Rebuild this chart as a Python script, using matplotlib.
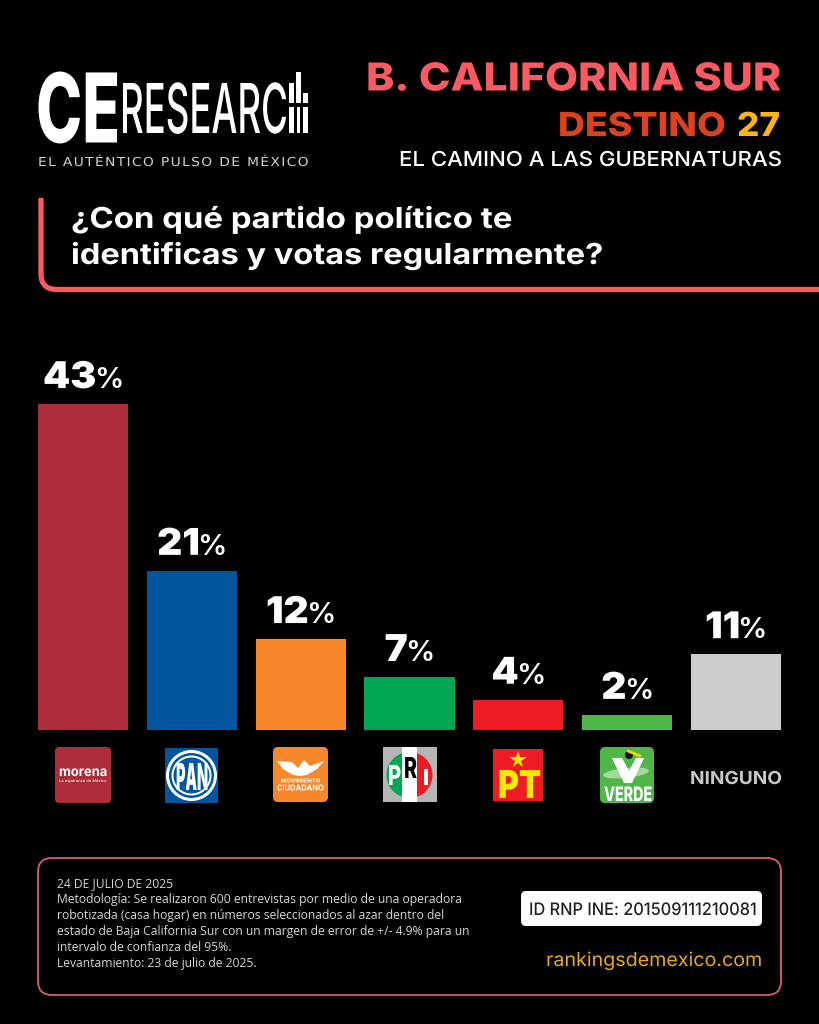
#! /usr/bin/env python

import matplotlib
matplotlib.use("Agg")
import matplotlib.pyplot as plt
from matplotlib.patches import FancyBboxPatch, PathPatch, Rectangle, Circle, Wedge, Polygon, Ellipse
from matplotlib.patheffects import AbstractPathEffect
from matplotlib.path import Path
from matplotlib.transforms import Affine2D

# chart data
partidos = ["MORENA", "PAN", "MC", "PRI", "PT", "VERDE", "NINGUNO"]
valores = [43, 21, 12, 7, 4, 2, 10]   # height as drawn in the picture
etiquetas = ["43", "21", "12", "7", "4", "2", "11"]
colores = ["#ad2e3a", "#00569d", "#f6872a", "#00a651", "#ed1c24", "#4fb748", "#cccccc"]

notas = [
    "24 DE JULIO DE 2025",
    "Metodología: Se realizaron 600 entrevistas por medio de una operadora",
    "robotizada (casa hogar) en números seleccionados al azar dentro del",
    "estado de Baja California Sur con un margen de error de +/- 4.9% para un",
    "intervalo de confianza del 95%.",
    "Levantamiento: 23 de julio de 2025.",
]

CORAL = "#fb5a62"
W, H = 819, 1024
CAP = 0.727  # cap height of the fonts, in em


# squashes the glyphs vertically around the text origin, there is no wide/narrow font here
class Estirar(AbstractPathEffect):
    def __init__(self, sy):
        super().__init__()
        self.sy = sy

    def draw_path(self, renderer, gc, tpath, affine, rgbFace=None):
        m = affine.get_matrix()
        tx, ty = m[0, 2], m[1, 2]
        extra = Affine2D().translate(-tx, -ty).scale(1, self.sy).translate(tx, ty)
        renderer.draw_path(gc, tpath, affine + extra, rgbFace)


fig = plt.figure(figsize=(W / 100, H / 100), dpi=100, facecolor="black")
renderer = fig.canvas.get_renderer()

# overlay in pixel coordinates for the header, logos and footer
ov = fig.add_axes([0, 0, 1, 1], zorder=1)
ov.set_xlim(0, W)
ov.set_ylim(H, 0)
ov.axis("off")


def txt(s, x0, x1, base, alto, color="white", peso="bold", fam="Inter", z=3):
    # text between x0 and x1 px with its baseline at base and capitals alto px high
    t = ov.text(x0, base, s, color=color, fontsize=20, fontweight=peso, family=fam,
                ha="left", va="baseline", zorder=z)
    for _ in range(2):
        t.set_fontsize(t.get_fontsize() * (x1 - x0) / t.get_window_extent(renderer).width)
    sy = alto / (CAP * t.get_fontsize() * 100 / 72)
    t.set_path_effects([Estirar(sy)])
    return t


# bar axes: 38..781 px wide, baseline at y=730, 7.58 px per percent
ax = fig.add_axes([38 / W, (H - 730) / H, 743 / W, 379 / H], zorder=2)
ax.patch.set_alpha(0)
ax.set_xlim(-0.4135, 6.4135)
ax.set_ylim(0, 50)
ax.axis("off")
pos = range(len(valores))
ax.bar(pos, valores, width=0.827, color=colores)

for i, v in enumerate(valores):
    t1 = ax.annotate(etiquetas[i], (i, v), xytext=(0, 11.5), textcoords="offset points",
                     color="white", fontsize=28, fontweight=900, family="Inter", ha="left")
    t2 = ax.annotate("%", (i, v), xytext=(0, 11.5), textcoords="offset points",
                     color="white", fontsize=21, fontweight="semibold", family="Inter", ha="left")
    t1.set_path_effects([Estirar(0.95)])
    w1 = t1.get_window_extent(renderer).width * 72 / 100
    w2 = t2.get_window_extent(renderer).width * 72 / 100
    x0 = -(w1 + w2 - 2) / 2
    t1.set_position((x0, 11.5))
    t2.set_position((x0 + w1 - 2, 11.5))

# logo
txt("CE", 36, 120, 142.5, 70, peso=800)
txt("RESEARC", 120, 288, 133, 50, peso="medium")
for x0, x1, y0, y1 in [(289, 294, 83, 103), (296, 301, 72, 103), (303, 308, 93, 103),
                       (289, 294, 107, 133), (297, 300, 107, 133), (303, 308, 107, 133)]:
    ov.add_patch(Rectangle((x0, y0), x1 - x0, y1 - y0, facecolor="white"))
txt("\u200a".join("EL AUTÉNTICO PULSO DE MÉXICO"), 38, 309, 166, 9, color="#d0d0d0",
    peso="normal", fam="DejaVu Sans")

# header
txt("B. CALIFORNIA SUR", 366, 781, 90.5, 28, color=CORAL, peso=800)
txt("DESTINO", 558, 726, 136, 24, color="#dc4120", peso=800)
txt("27", 737, 780, 136, 24, color="#ffb511", peso=800)
txt("EL CAMINO A LAS GUBERNATURAS", 399, 781, 166, 15, peso="medium")

# question frame
marco = Path([(41, 198), (41, 274), (41, 289.5), (57, 289.5), (819, 289.5)],
             [Path.MOVETO, Path.LINETO, Path.CURVE3, Path.CURVE3, Path.LINETO])
ov.add_patch(PathPatch(marco, fill=False, edgecolor=CORAL, lw=3.8, capstyle="butt"))
txt("¿Con qué partido político te", 71, 511, 228, 21, peso="bold")
txt("identificas y votas regularmente?", 71, 603, 264, 21, peso="bold")


def caja(x0, y0, x1, y1, color, r=4):
    ov.add_patch(FancyBboxPatch((x0 + r, y0 + r), x1 - x0 - 2 * r, y1 - y0 - 2 * r,
                                boxstyle="round,pad=%d,rounding_size=%d" % (r, r),
                                facecolor=color, edgecolor="none"))


# party logos
caja(55, 747, 111, 803, "#ad2e3a")
txt("morena", 59, 107, 776, 10, peso="bold")
txt("La esperanza de México", 59, 107, 782, 2.8, peso="normal")

ov.add_patch(Rectangle((165, 748), 53, 55, facecolor="#00569d"))
ov.add_patch(Circle((191.5, 775.5), 25.5, facecolor="white"))
ov.add_patch(Circle((191.5, 775.5), 22.5, facecolor="#00569d"))
ov.add_patch(Circle((191.5, 775.5), 20, facecolor="white"))
ov.add_patch(Circle((191.5, 775.5), 18, facecolor="#00569d"))
txt("PAN", 176, 208, 790, 27, peso=900)

caja(273, 747, 328, 802, "#f6872a", r=5)
ov.add_patch(Polygon([(277, 761), (292, 762), (298, 768), (304, 760), (310, 766), (324, 761),
                      (317, 769), (307, 775), (300, 776), (293, 775), (283, 769)],
                     facecolor="white"))
txt("MOVIMIENTO", 281, 320, 782.5, 4, peso="bold")
txt("CIUDADANO", 277, 324, 790.5, 6, peso="bold")

ov.add_patch(Rectangle((383, 747), 54, 55, facecolor="#b5b5b5"))
ov.add_patch(Wedge((409.5, 775), 23, 90, 270, facecolor="#00a651"))
ov.add_patch(Wedge((409.5, 775), 23, -90, 90, facecolor="#ed1c24"))
ov.add_patch(Rectangle((402, 747), 15, 55, facecolor="white"))
txt("P", 388, 401, 785, 20, peso=800)
txt("R", 404, 417, 778, 21, color="black", peso=800)
txt("I", 423, 429, 785, 16, peso=800)

ov.add_patch(Rectangle((493, 749), 50, 52, facecolor="#ed1c24"))
ov.plot([518], [760], marker="*", color="#ffe800", markersize=13, markeredgewidth=0)
txt("PT", 498, 541, 798, 28, color="#ffe800", peso=900)

caja(600, 747, 654, 803, "#4fb748", r=5)
ov.add_patch(Ellipse((626, 773), 46, 10, angle=-6, facecolor="#a5d69c"))
ov.add_patch(Polygon([(612, 758), (622, 758), (629, 771), (636, 758), (644, 758),
                      (632, 783), (624, 783)], facecolor="white"))
ov.add_patch(Circle((629, 755), 4, facecolor="#111111"))
ov.plot([628, 640], [751, 756], color="#f5d800", lw=2, solid_capstyle="round")
txt("VERDE", 604, 652, 801, 14.5, peso=800)

txt("NINGUNO", 690, 782, 784, 13, color="#c8c8c8", peso="bold")

# footer box
ov.add_patch(FancyBboxPatch((52, 872), 715, 109, boxstyle="round,pad=14,rounding_size=14",
                            facecolor="none", edgecolor="#df5a6c", lw=1.3))
for i, linea in enumerate(notas):
    ov.text(57, 883.5 + i * 16, linea, color="#d6d6d6", fontsize=8.7, family="Open Sans",
            va="center")

caja(521, 891, 762, 926, "white", r=5)
txt("ID RNP INE: 201509111210081", 529, 754, 915, 12.5, color="#222222", peso="medium")
txt("rankingsdemexico.com", 546, 762, 966, 14, color="#eba721", peso="normal")

fig.savefig("out.png", dpi=100, facecolor="black")
